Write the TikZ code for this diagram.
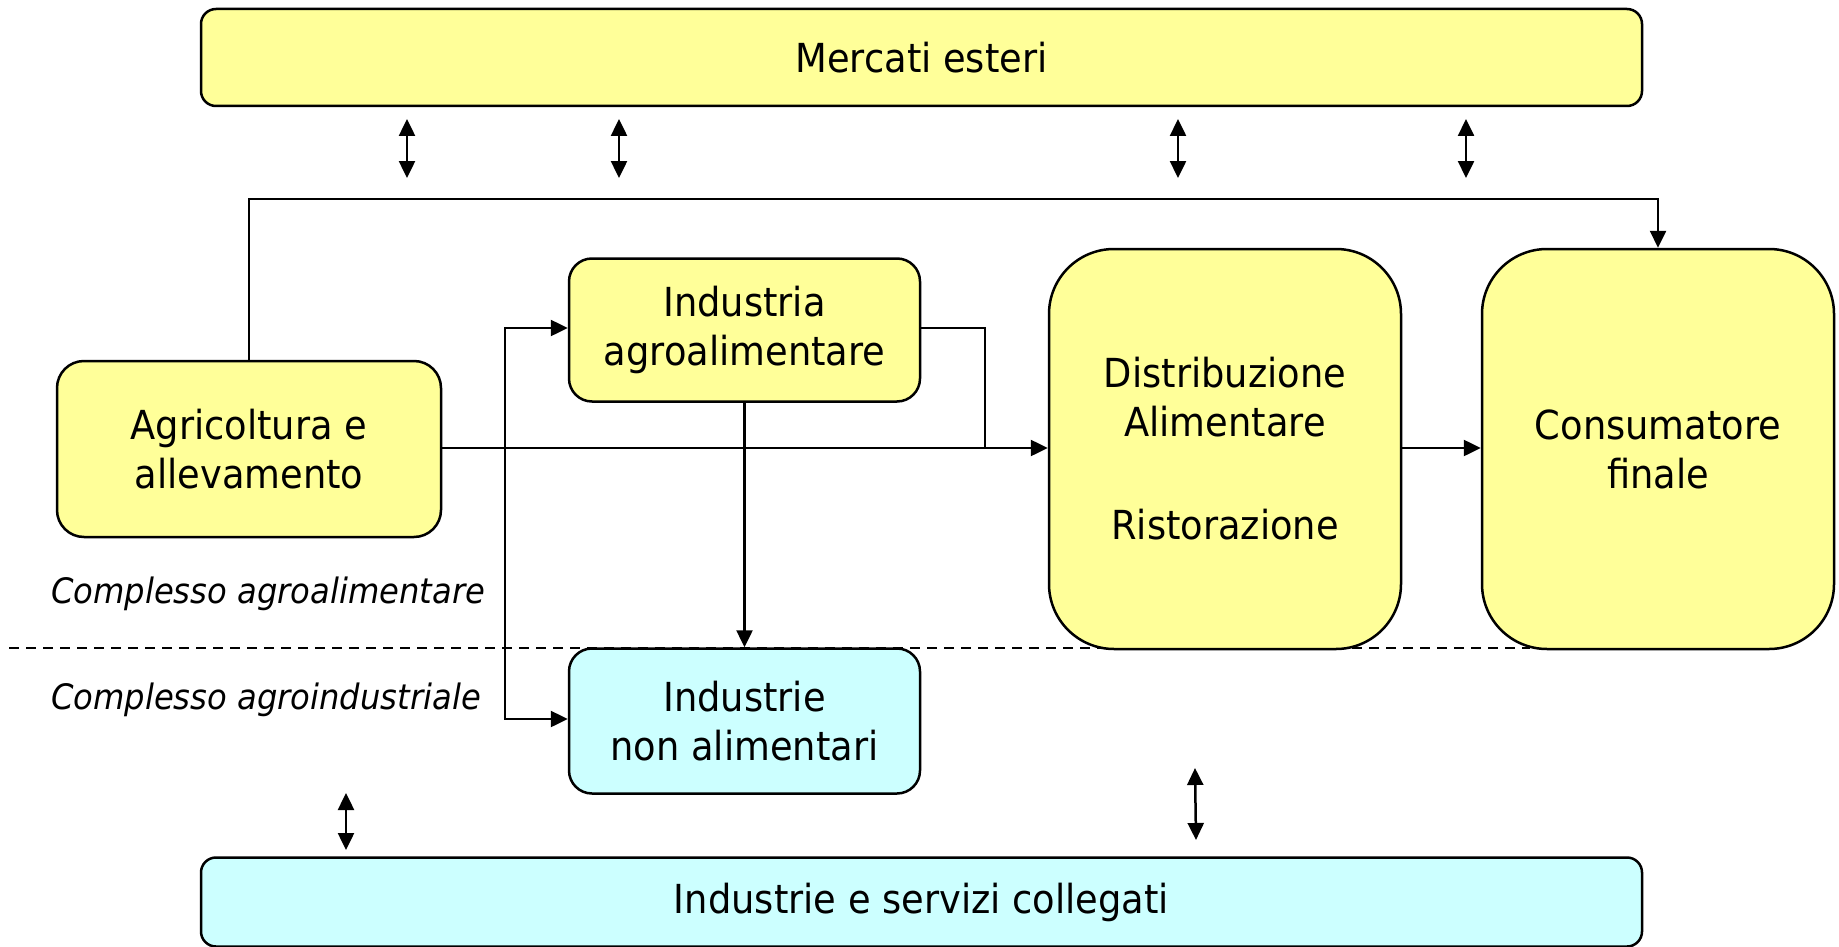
\documentclass[tikz,border=0pt]{standalone}
\usepackage{fontspec}
\setmainfont{DejaVu Sans}[FakeStretch=0.92]
\usepackage{tikz}
\usetikzlibrary{arrows.meta}
\definecolor{boxyellow}{HTML}{FFFF99}
\definecolor{boxcyan}{HTML}{CCFFFF}
\tikzstyle{yellow box}=[
        draw = black,
        line width = 2.5pt,
        fill = boxyellow,
        rounded corners = 23pt,
        align = center,
        font = \fontsize{40}{49}\selectfont
    ]
\tikzstyle{cyan box}=[
        yellow box,
        fill = boxcyan
    ]

\begin{document}
\begin{tikzpicture}[x=1pt, y=-1pt, line width=2.5pt, >={Triangle[length=17pt,width=16pt]},
        side/.style = {font=\fontsize{35}{42}\selectfont\itshape, anchor=west, inner sep=0pt}]
        \useasboundingbox (0,0) rectangle (1839,947);

        % dashed border between the two complexes
        \draw[dash pattern=on 10pt off 7pt] (9,648) -- (1530,648);

        \node[yellow box, minimum width=1441pt, minimum height=97pt, rounded corners=15pt] (mercati) at (921.5,57.5) {Mercati esteri};
        \node[yellow box, minimum width=384pt, minimum height=176pt, rounded corners=27pt] (agri) at (249,449) {Agricoltura e\\allevamento};
        \node[yellow box, minimum width=351pt, minimum height=143pt] (ind) at (744.5,330) {Industria\\agroalimentare};
        \node[yellow box, minimum width=352pt, minimum height=400pt, rounded corners=65pt] (dist) at (1225,449) {Distribuzione\\Alimentare\\[54pt]Ristorazione};
        \node[yellow box, minimum width=352pt, minimum height=400pt, rounded corners=65pt] (cons) at (1658,449) {Consumatore\\finale};
        \node[cyan box, minimum width=351pt, minimum height=145pt] (nonal) at (744.5,721) {Industrie\\non alimentari};
        \node[cyan box, minimum width=1441pt, minimum height=89pt, rounded corners=15pt] (serv) at (921.5,902) {Industrie e servizi collegati};

        \node[side] (alim) at (50,594) {Complesso agroalimentare};
        \node[side] (indu) at (50,700) {Complesso agroindustriale};

        \coordinate (toprow) at (0,199);
        \coordinate (jl) at (505,448);
        \coordinate (jr) at (985,448);

        \draw[->] (agri.north) |- (cons.north |- toprow) -- (cons.north);
        \draw[->] (agri.east |- jl) -- (dist.west |- jl);
        \draw[->] (dist.east |- jl) -- (cons.west |- jl);
        \draw (ind.east |- 0,328) -| (jr);
        \draw[->] (jl) |- (ind.west |- 0,328);
        \draw[->] (jl) |- (nonal.west |- 0,719);
        \draw[->] (ind.south) -- (nonal.north);

        % exchanges with foreign markets
        \coordinate (ea1) at (407,119); \coordinate (eb1) at (407,178);
        \coordinate (ea2) at (619,119); \coordinate (eb2) at (619,178);
        \coordinate (ea3) at (1178,119); \coordinate (eb3) at (1178,178);
        \coordinate (ea4) at (1466,119); \coordinate (eb4) at (1466,178);
        \draw[<->] (ea1) -- (eb1);
        \draw[<->] (ea2) -- (eb2);
        \draw[<->] (ea3) -- (eb3);
        \draw[<->] (ea4) -- (eb4);

        % exchanges with linked industries
        \coordinate (sa1) at (346,793); \coordinate (sb1) at (346,850);
        \coordinate (sa2) at (1195,768); \coordinate (sb2) at (1196,840);
        \draw[<->] (sa1) -- (sb1);
        \draw[<->] (sa2) -- (sb2);
    \end{tikzpicture}
\end{document}
